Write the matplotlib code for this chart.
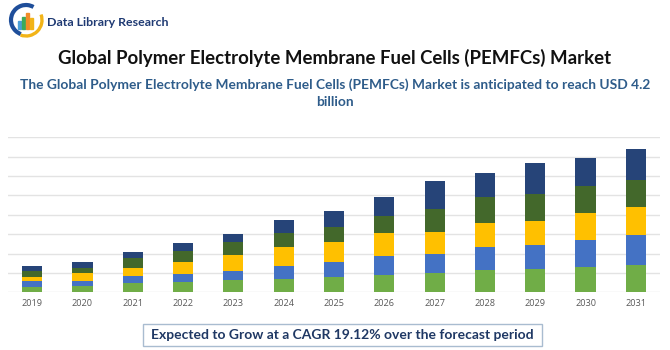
import matplotlib
matplotlib.use("Agg")
import matplotlib.pyplot as plt
import numpy as np
from matplotlib.patches import Rectangle, Arc

years = ["2019", "2020", "2021", "2022", "2023", "2024", "2025",
         "2026", "2027", "2028", "2029", "2030", "2031"]
seg_green = [0.28, 0.33, 0.50, 0.55, 0.64, 0.67, 0.81, 0.90, 1.00, 1.17, 1.21, 1.29, 1.41]
seg_blue = [0.28, 0.24, 0.36, 0.41, 0.47, 0.71, 0.76, 0.95, 0.98, 1.17, 1.21, 1.40, 1.57]
seg_yellow = [0.21, 0.41, 0.41, 0.62, 0.79, 0.98, 1.03, 1.21, 1.14, 1.24, 1.26, 1.41, 1.43]
seg_dkgreen = [0.34, 0.26, 0.48, 0.53, 0.69, 0.72, 0.79, 0.90, 1.19, 1.36, 1.40, 1.41, 1.40]
seg_navy = [0.24, 0.31, 0.34, 0.45, 0.41, 0.67, 0.81, 0.97, 1.41, 1.21, 1.57, 1.43, 1.59]

series = [seg_green, seg_blue, seg_yellow, seg_dkgreen, seg_navy]
colors = ["#70AD47", "#4472C4", "#FFC000", "#43682B", "#264478"]

title = "Global Polymer Electrolyte Membrane Fuel Cells (PEMFCs) Market"
subtitle1 = "The Global Polymer Electrolyte Membrane Fuel Cells (PEMFCs) Market is anticipated to reach USD 4.2"
subtitle2 = "billion"
footer = "Expected to Grow at a CAGR 19.12% over the forecast period"
brand = "Data Library Research"

plt.rcParams["font.family"] = ["Lato", "DejaVu Sans"]

W, H = 670, 350
fig = plt.figure(figsize=(6.7, 3.5), dpi=100)
fig.patch.set_facecolor("white")

# chart axes
ax = fig.add_axes([8 / W, 1 - 292.3 / H, (660 - 8) / W, (292.3 - 137.3) / H])
x = np.arange(len(years))
bottom = np.zeros(len(years))
for vals, c in zip(series, colors):
    ax.bar(x, vals, width=0.4, bottom=bottom, color=c, zorder=3, linewidth=0)
    bottom += np.array(vals)
ax.set_xlim(-0.48, len(years) - 0.52)
ax.set_ylim(0, 8)
ax.set_yticks(np.arange(0, 9, 1))
ax.yaxis.grid(True, color="#E3E3E3", linewidth=1.0, zorder=0)
ax.set_axisbelow(True)
ax.tick_params(axis="y", left=False, labelleft=False)
ax.tick_params(axis="x", bottom=False, length=0, pad=5, labelsize=6.6, labelcolor="#595959")
ax.set_xticks(x)
ax.set_xticklabels(years, family=["Open Sans", "DejaVu Sans"])
for s in ax.spines.values():
    s.set_visible(False)

# titles
fig.text(0.5, 1 - 58 / H, title, ha="center", va="center", fontsize=13.4,
         fontweight="bold", color="#111111")
fig.text(0.5, 1 - 85 / H, subtitle1, ha="center", va="center", fontsize=9.9,
         fontweight="bold", color="#2E5C8A")
fig.text(0.5, 1 - 102 / H, subtitle2, ha="center", va="center", fontsize=9.9,
         fontweight="bold", color="#2E5C8A")

# footer box
fig.patches.append(Rectangle((143 / W, 1 - 346 / H), (542 - 143) / W, 22 / H,
                             transform=fig.transFigure, facecolor="white",
                             edgecolor="#A9BCD0", linewidth=1.0))
fig.text((143 + 542) / 2 / W, 1 - 335 / H, footer, ha="center", va="center",
         fontsize=10, fontweight="bold", color="#1F3864")

# logo
lax = fig.add_axes([8 / W, 1 - 38 / H, 36 / W, 36 / H])
lax.set_xlim(0, 36)
lax.set_ylim(0, 36)
lax.set_aspect("equal")
lax.axis("off")
lax.add_patch(Arc((18, 18), 30, 30, theta1=60, theta2=250, color="#1F4E9A", linewidth=3.0))
lax.add_patch(Arc((18, 18), 32, 32, theta1=250, theta2=380, color="#F2B418", linewidth=2.4))
bar_cols = ["#4A9FD8", "#3BAA5C", "#F28C28", "#F2B418"]
bar_h = [8, 12, 16, 11]
for i, (bh, bc) in enumerate(zip(bar_h, bar_cols)):
    lax.add_patch(Rectangle((10 + i * 4, 9), 3, bh, color=bc))
fig.text(47 / W, 1 - 22 / H, brand, ha="left", va="center", fontsize=8.9,
         fontweight="bold", color="#1F3A73")

fig.savefig("out.png", dpi=100, facecolor="white")
